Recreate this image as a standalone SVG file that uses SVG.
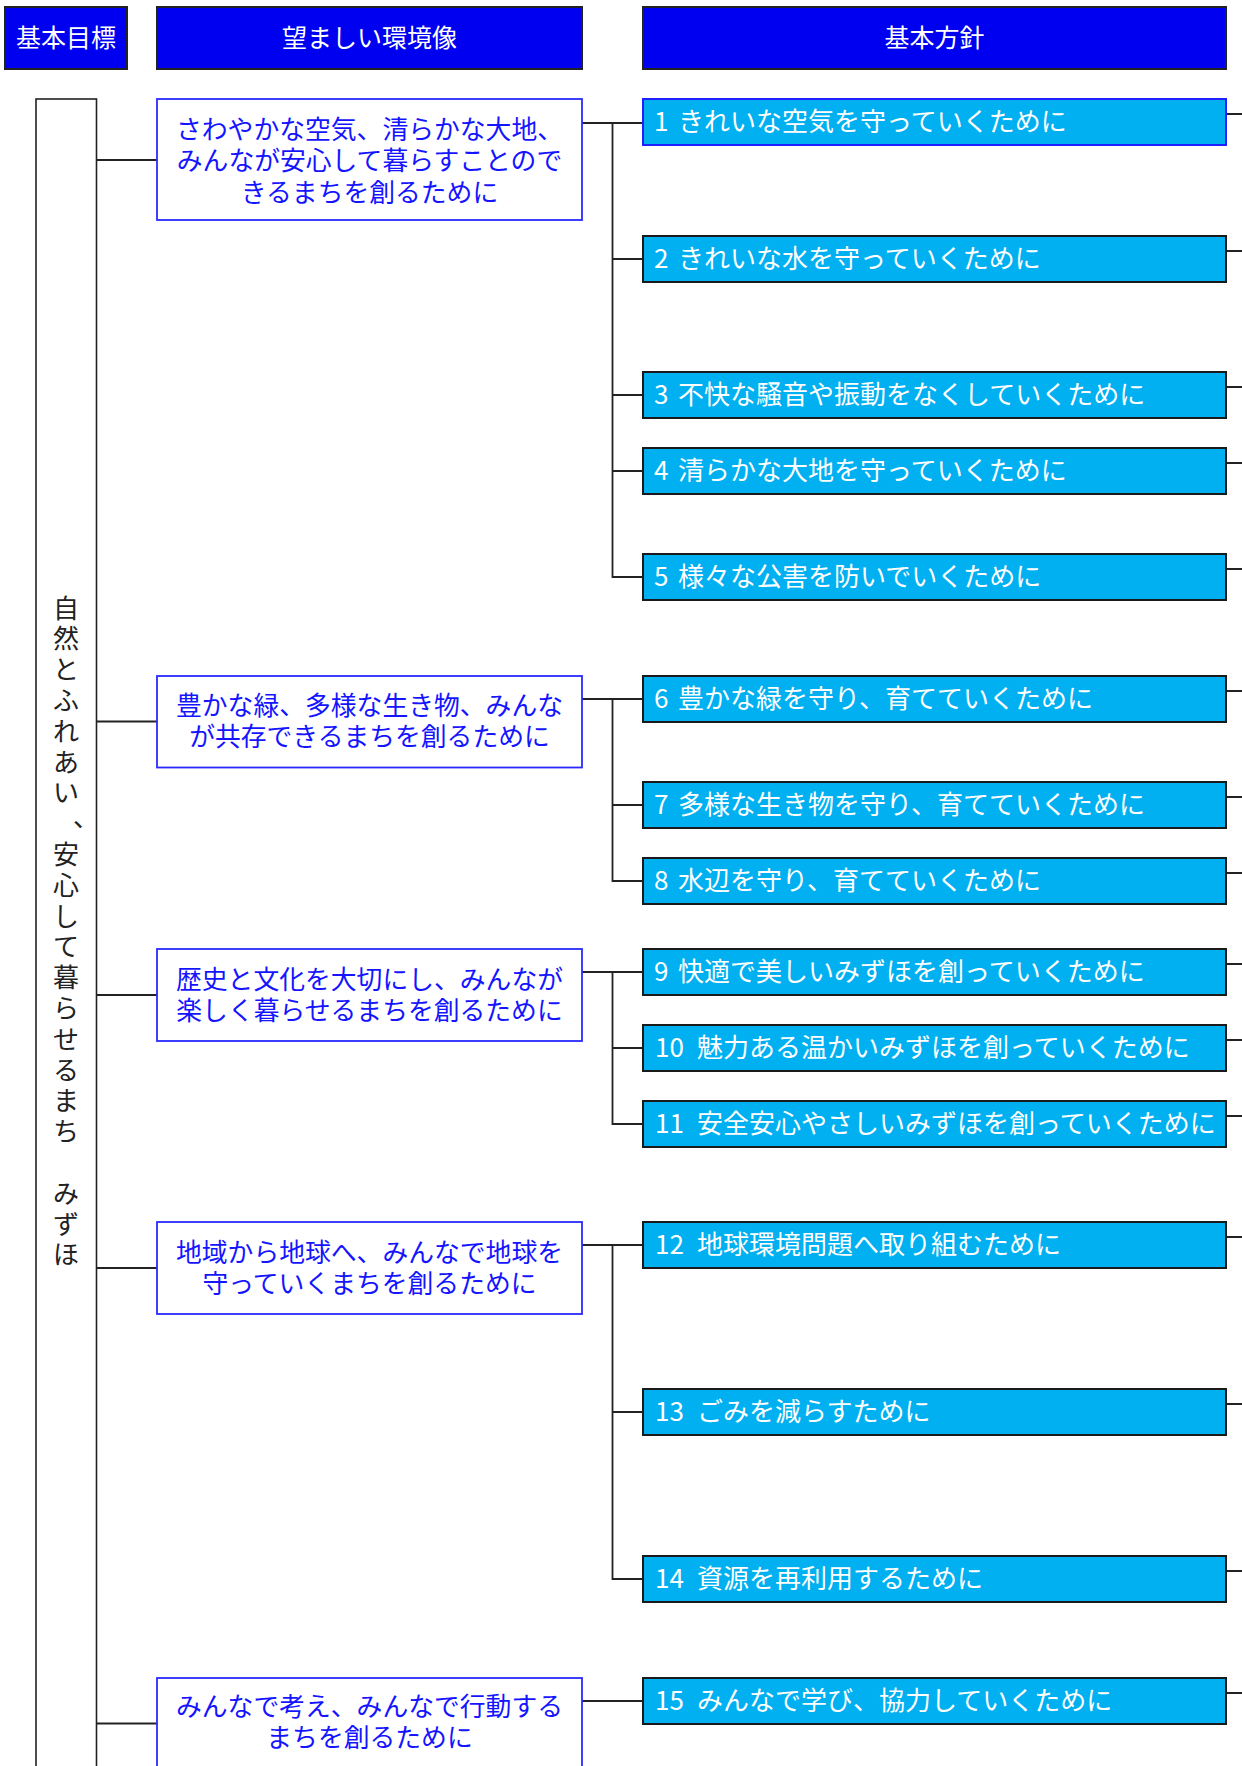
<svg xmlns="http://www.w3.org/2000/svg" width="1242" height="1766" viewBox="0 0 1242 1766">
<style>
text{font-family:"Noto Sans CJK JP","Noto Sans CJK SC",sans-serif;dominant-baseline:central}
.hdr{fill:#0000f0;stroke:#222;stroke-width:2}
.hdrt{fill:#fff;font-size:25px;text-anchor:middle}
.env{fill:#fff;stroke:#2a2aff;stroke-width:1.8}
.envt{fill:#1414ff;font-size:25.8px;text-anchor:middle}
.pol{fill:#00b0f0;stroke:#1a1a1a;stroke-width:2}
.pol1{fill:#00b0f0;stroke:#2020ff;stroke-width:2}
.polt{fill:#fff;font-size:26px}
.goal{fill:#fff;stroke:#222;stroke-width:1.6}
.goalt{fill:#222;font-size:26px;text-anchor:middle}
.ln{fill:none;stroke:#222;stroke-width:1.8}
</style>
<rect width="1242" height="1766" fill="#fff"/>
<g id="headers">
<g id="h-goal"><rect class="hdr" x="5" y="7" width="122" height="62"/><text class="hdrt" x="66" y="35.5">基本目標</text></g>
<g id="h-env"><rect class="hdr" x="157" y="7" width="425" height="62"/><text class="hdrt" x="369.5" y="35.5">望ましい環境像</text></g>
<g id="h-pol"><rect class="hdr" x="643" y="7" width="583" height="62"/><text class="hdrt" x="934.5" y="35.5">基本方針</text></g>
</g>
<g id="connectors">
<path class="ln" d="M96.5 160H157M96.5 721.5H157M96.5 995H157M96.5 1268H157M96.5 1723.5H157"/>
<path class="ln" d="M582 123H643M612.5 123V577H643M612.5 259H643M612.5 395H643M612.5 471H643"/>
<path class="ln" d="M582 699H643M612.5 699V881H643M612.5 805H643"/>
<path class="ln" d="M582 972H643M612.5 972V1124H643M612.5 1048H643"/>
<path class="ln" d="M582 1245H643M612.5 1245V1579H643M612.5 1412H643"/>
<path class="ln" d="M582 1701H643"/>
<path class="ln" d="M1226 114H1242M1226 251H1242M1226 387H1242M1226 463H1242M1226 569H1242M1226 691H1242M1226 797H1242M1226 873H1242M1226 964H1242M1226 1040H1242M1226 1116H1242M1226 1237H1242M1226 1404H1242M1226 1571H1242M1226 1693H1242"/>
</g>
<g id="goal">
<rect class="goal" x="36" y="99" width="60.5" height="1700"/>
<text class="goalt" x="66 66 66 66 66 66 66 86 66 66 66 66 66 66 66 66 66 66 66 66 66" y="606 636.8 667.6 698.4 729.2 760 790.8 815 852.4 883.2 914 944.8 975.6 1006.4 1037.2 1068 1098.8 1129.6 1191.2 1222 1252.8">自然とふれあい、安心して暮らせるまちみずほ</text>
</g>
<g id="env1"><rect class="env" x="157" y="99" width="425" height="121"/><text class="envt"><tspan x="369.5" y="126.5">さわやかな空気、清らかな大地、</tspan><tspan x="369.5" y="158">みんなが安心して暮らすことので</tspan><tspan x="369.5" y="189.5">きるまちを創るために</tspan></text></g>
<g id="env2"><rect class="env" x="157" y="676" width="425" height="91.5"/><text class="envt"><tspan x="369.5" y="703">豊かな緑、多様な生き物、みんな</tspan><tspan x="369.5" y="734">が共存できるまちを創るために</tspan></text></g>
<g id="env3"><rect class="env" x="157" y="949" width="425" height="92"/><text class="envt"><tspan x="369.5" y="976.5">歴史と文化を大切にし、みんなが</tspan><tspan x="369.5" y="1007.5">楽しく暮らせるまちを創るために</tspan></text></g>
<g id="env4"><rect class="env" x="157" y="1222" width="425" height="92"/><text class="envt"><tspan x="369.5" y="1249.5">地域から地球へ、みんなで地球を</tspan><tspan x="369.5" y="1280.5">守っていくまちを創るために</tspan></text></g>
<g id="env5"><rect class="env" x="157" y="1678" width="425" height="92"/><text class="envt"><tspan x="369.5" y="1704">みんなで考え、みんなで行動する</tspan><tspan x="369.5" y="1735">まちを創るために</tspan></text></g>
<g id="p1"><rect class="pol1" x="643" y="99" width="583" height="46"/><text class="polt" y="119"><tspan x="654">1 </tspan><tspan x="678">きれいな空気を守っていくために</tspan></text></g>
<g id="p2"><rect class="pol" x="643" y="236" width="583" height="46"/><text class="polt" y="256"><tspan x="654">2 </tspan><tspan x="678">きれいな水を守っていくために</tspan></text></g>
<g id="p3"><rect class="pol" x="643" y="372" width="583" height="46"/><text class="polt" y="392"><tspan x="654">3 </tspan><tspan x="678">不快な騒音や振動をなくしていくために</tspan></text></g>
<g id="p4"><rect class="pol" x="643" y="448" width="583" height="46"/><text class="polt" y="468"><tspan x="654">4 </tspan><tspan x="678">清らかな大地を守っていくために</tspan></text></g>
<g id="p5"><rect class="pol" x="643" y="554" width="583" height="46"/><text class="polt" y="574"><tspan x="654">5 </tspan><tspan x="678">様々な公害を防いでいくために</tspan></text></g>
<g id="p6"><rect class="pol" x="643" y="676" width="583" height="46"/><text class="polt" y="696"><tspan x="654">6 </tspan><tspan x="678">豊かな緑を守り、育てていくために</tspan></text></g>
<g id="p7"><rect class="pol" x="643" y="782" width="583" height="46"/><text class="polt" y="802"><tspan x="654">7 </tspan><tspan x="678">多様な生き物を守り、育てていくために</tspan></text></g>
<g id="p8"><rect class="pol" x="643" y="858" width="583" height="46"/><text class="polt" y="878"><tspan x="654">8 </tspan><tspan x="678">水辺を守り、育てていくために</tspan></text></g>
<g id="p9"><rect class="pol" x="643" y="949" width="583" height="46"/><text class="polt" y="969"><tspan x="654">9 </tspan><tspan x="678">快適で美しいみずほを創っていくために</tspan></text></g>
<g id="p10"><rect class="pol" x="643" y="1025" width="583" height="46"/><text class="polt" y="1045"><tspan x="655">10 </tspan><tspan x="697">魅力ある温かいみずほを創っていくために</tspan></text></g>
<g id="p11"><rect class="pol" x="643" y="1101" width="583" height="46"/><text class="polt" y="1121"><tspan x="655">11 </tspan><tspan x="697">安全安心やさしいみずほを創っていくために</tspan></text></g>
<g id="p12"><rect class="pol" x="643" y="1222" width="583" height="46"/><text class="polt" y="1242"><tspan x="655">12 </tspan><tspan x="697">地球環境問題へ取り組むために</tspan></text></g>
<g id="p13"><rect class="pol" x="643" y="1389" width="583" height="46"/><text class="polt" y="1409"><tspan x="655">13 </tspan><tspan x="697">ごみを減らすために</tspan></text></g>
<g id="p14"><rect class="pol" x="643" y="1556" width="583" height="46"/><text class="polt" y="1576"><tspan x="655">14 </tspan><tspan x="697">資源を再利用するために</tspan></text></g>
<g id="p15"><rect class="pol" x="643" y="1678" width="583" height="46"/><text class="polt" y="1698"><tspan x="655">15 </tspan><tspan x="697">みんなで学び、協力していくために</tspan></text></g>
</svg>
